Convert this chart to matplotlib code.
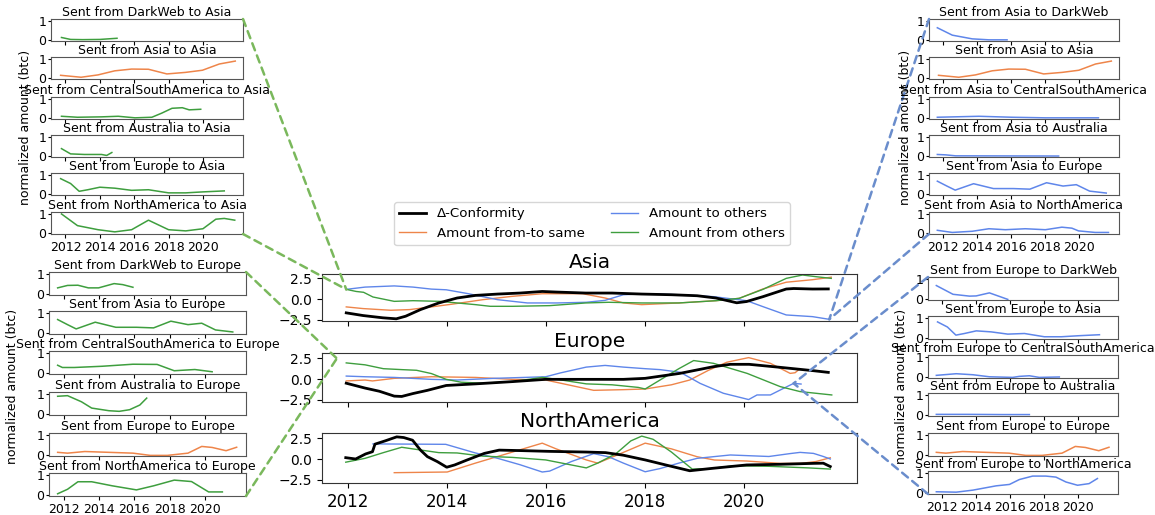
import matplotlib
matplotlib.use("Agg")
import matplotlib.pyplot as plt
from matplotlib.patches import ConnectionPatch
from matplotlib.lines import Line2D

W, H = 1155, 515

# ---------------- main panels data ----------------
asia_conf_x = [2011.96, 2012.3, 2012.7, 2012.97, 2013.16, 2013.46, 2013.83, 2014.2, 2014.57, 2015.02, 2015.47,
               2015.92, 2016.2, 2016.8, 2017.33, 2017.93, 2018.53, 2019.05, 2019.43, 2019.85, 2020.05, 2020.38,
               2020.85, 2021.0, 2021.38, 2021.7]
asia_conf_y = [-1.65, -1.97, -2.24, -2.36, -2.05, -1.26, -0.47, 0.12, 0.43, 0.59, 0.71, 0.9, 0.83, 0.71, 0.71,
               0.59, 0.51, 0.39, 0.12, -0.45, -0.3, 0.28, 1.19, 1.25, 1.19, 1.2]
asia_same_x = [2011.96, 2012.3, 2012.86, 2013.24, 2013.68, 2014.13, 2014.72, 2015.3, 2015.92, 2016.74, 2017.19,
               2017.56, 2017.93, 2018.68, 2019.43, 2019.9, 2020.38, 2020.85, 2021.38, 2021.76]
asia_same_y = [-0.94, -1.14, -1.34, -1.26, -0.94, -0.59, -0.08, 0.31, 0.63, 0.63, 0.12, -0.47, -0.67, -0.47, -0.2,
               0.08, 1.2, 2.0, 2.3, 2.6]
asia_to_x = [2011.96, 2012.34, 2012.93, 2013.31, 2013.68, 2013.98, 2014.43, 2015.02, 2015.62, 2016.22, 2016.81,
             2017.19, 2017.56, 2018.0, 2018.68, 2019.38, 2020.05, 2020.38, 2020.85, 2021.38, 2021.72]
asia_to_y = [1.15, 1.42, 1.56, 1.42, 1.18, 1.1, 0.63, -0.08, -0.47, -0.47, -0.39, -0.16, 0.51, 0.63, 0.51, 0.28,
             -0.2, -0.91, -1.9, -2.1, -2.42]
asia_from_x = [2011.96, 2012.16, 2012.31, 2012.5, 2012.93, 2013.31, 2013.86, 2014.2, 2014.57, 2014.87, 2015.32,
               2016.07, 2016.8, 2017.26, 2017.93, 2018.68, 2019.43, 2019.9, 2020.38, 2020.85, 2021.18, 2021.45,
               2021.76]
asia_from_y = [1.15, 0.9, 0.8, 0.24, -0.28, -0.2, -0.28, -0.47, -0.67, -0.87, -0.87, -0.79, -0.47, -0.39, -0.47,
               -0.47, -0.2, 0.08, 1.15, 2.46, 2.86, 2.66, 2.46]

eu_conf_x = [2011.96, 2012.34, 2012.63, 2012.93, 2013.08, 2013.31, 2013.6, 2013.98, 2014.57, 2015.32, 2015.99,
             2016.81, 2017.56, 2018.0, 2018.7, 2019.38, 2019.72, 2020.1, 2020.73, 2021.4, 2021.7]
eu_conf_y = [-0.5, -1.08, -1.46, -2.04, -2.08, -1.73, -1.35, -0.77, -0.58, -0.31, -0.04, -0.04, -0.04, 0.08,
             0.67, 1.47, 1.75, 1.75, 1.39, 0.99, 0.79]
eu_same_x = [2011.96, 2012.34, 2012.49, 2012.93, 2013.68, 2014.57, 2015.32, 2015.99, 2016.44, 2016.96, 2017.56,
             2018.0, 2018.53, 2018.9, 2019.28, 2019.65, 2020.09, 2020.53, 2020.93, 2021.03, 2021.12]
eu_same_y = [-0.23, -0.12, -0.23, 0.08, 0.27, 0.19, -0.04, -0.12, -0.69, -1.35, -1.27, -1.19, -0.69, -0.12, 1.04,
             2.0, 2.55, 1.87, 0.67, 0.75, 1.2]
eu_to_x = [2011.96, 2012.34, 2012.93, 2013.68, 2014.2, 2014.95, 2015.99, 2016.29, 2016.81, 2017.19, 2017.56,
           2018.0, 2018.3, 2018.71, 2019.11, 2019.58, 2019.99, 2020.09, 2020.26, 2020.53, 2020.8, 2021.0, 2021.15]
eu_to_y = [0.35, 0.27, 0.19, -0.04, -0.12, 0.08, 0.27, 0.73, 1.42, 1.62, 1.42, 1.23, 1.12, 0.8, -0.52, -1.7,
           -2.3, -2.45, -1.9, -1.9, -1.1, -0.52, -0.6]
eu_from_x = [2011.96, 2012.34, 2012.71, 2013.08, 2013.38, 2013.68, 2013.98, 2014.28, 2014.72, 2015.32, 2015.92,
             2016.22, 2016.81, 2017.33, 2017.86, 2018.0, 2018.3, 2018.68, 2018.98, 2019.38, 2020.06, 2020.73,
             2021.13, 2021.77]
eu_from_y = [1.92, 1.69, 1.23, 1.12, 1.04, 0.65, -0.04, -0.38, -0.5, -0.31, 0.19, -0.04, -0.58, -0.69, -1.0,
             -1.19, -0.12, 1.23, 2.2, 1.87, 0.67, -0.91, -1.5, -1.9]

na_conf_x = [2011.95, 2012.15, 2012.35, 2012.49, 2012.54, 2012.75, 2012.98, 2013.12, 2013.3, 2013.46, 2013.6,
             2013.8, 2013.99, 2014.15, 2014.4, 2014.75, 2015.05, 2015.5, 2016.07, 2016.81, 2017.2, 2017.56, 2018.0,
             2018.45, 2018.9, 2019.38, 2020.05, 2020.73, 2021.4, 2021.6, 2021.74]
na_conf_y = [0.16, 0.0, 0.6, 0.87, 1.77, 2.17, 2.64, 2.56, 2.24, 1.06, 0.28, -0.31, -0.98, -0.71, -0.12, 0.67,
             1.06, 1.0, 0.91, 0.83, 0.76, 0.45, -0.11, -0.76, -1.4, -1.1, -0.71, -0.63, -0.52, -0.5, -0.9]
na_same_x = [2012.93, 2014.0, 2014.57, 2015.32, 2015.92, 2016.2, 2016.81, 2017.04, 2017.5, 2018.0, 2018.53,
             2019.05, 2019.4, 2020.05, 2020.73, 2021.15, 2021.45, 2021.74]
na_same_y = [-1.63, -1.55, -0.49, 0.83, 1.89, 1.21, -0.11, -0.49, 0.64, 1.89, 1.21, 0.27, -0.12, -0.24, -0.52,
             -0.52, -0.3, 0.15]
na_to_x = [2012.5, 2013.97, 2014.57, 2015.02, 2015.47, 2015.92, 2016.07, 2016.51, 2016.96, 2017.26, 2017.56,
           2018.0, 2018.3, 2018.68, 2019.05, 2019.72, 2020.5, 2020.92, 2021.13, 2021.4, 2021.6, 2021.74]
na_to_y = [1.8, 1.75, 0.72, 0.08, -0.68, -1.55, -1.44, -0.3, 0.64, 0.27, -0.49, -1.52, -1.14, -0.49, 0.08, 0.48,
           0.3, 0.64, 0.79, 0.67, 0.3, 0.0]
na_from_x = [2011.95, 2012.34, 2012.71, 2013.08, 2013.3, 2013.83, 2014.2, 2014.72, 2015.32, 2015.99, 2016.81,
             2017.04, 2017.41, 2017.71, 2017.93, 2018.16, 2018.53, 2018.95, 2019.3, 2019.8, 2020.5, 2021.3, 2021.74]
na_from_y = [-0.38, 0.08, 0.76, 1.4, 1.21, 0.76, 0.72, 0.34, 0.19, -0.11, -1.06, -0.49, 0.64, 2.16, 2.73, 2.35,
             0.83, -1.2, -1.15, -0.8, -0.87, -1.06, -1.2]

regions = ["Asia", "Europe", "NorthAmerica"]
legend_labels = ["Δ-Conformity", "Amount from-to same", "Amount to others", "Amount from others"]

# ---------------- small panels data ----------------
darkweb_asia_x = [2011.77, 2012.3, 2013.0, 2014.0, 2014.5, 2015.0]
darkweb_asia_y = [0.15, 0.05, 0.04, 0.05, 0.08, 0.11]
asia_asia_x = [2011.72, 2012.91, 2013.89, 2014.87, 2015.85, 2016.83, 2017.9, 2018.99, 2019.97, 2020.95, 2021.88]
asia_asia_y = [0.16, 0.06, 0.18, 0.39, 0.48, 0.47, 0.23, 0.31, 0.42, 0.74, 0.89]
csa_asia_x = [2011.77, 2012.7, 2014.1, 2015.07, 2016.05, 2017.03, 2017.6, 2018.2, 2018.8, 2019.2, 2019.87]
csa_asia_y = [0.11, 0.06, 0.08, 0.11, 0.03, 0.06, 0.27, 0.52, 0.55, 0.44, 0.47]
aus_asia_x = [2011.77, 2012.3, 2013.1, 2014.1, 2014.4, 2014.7]
aus_asia_y = [0.4, 0.13, 0.1, 0.1, 0.05, 0.2]
europe_asia_x = [2011.72, 2012.3, 2012.8, 2013.3, 2014.0, 2014.87, 2015.85, 2016.83, 2018.0, 2019.0, 2020.0,
                 2021.24]
europe_asia_y = [0.81, 0.56, 0.16, 0.24, 0.37, 0.32, 0.21, 0.24, 0.08, 0.08, 0.13, 0.18]
na_asia_x = [2011.77, 2012.7, 2013.9, 2014.87, 2015.85, 2016.83, 2018.0, 2019.0, 2020.0, 2020.75, 2021.24, 2021.85]
na_asia_y = [1.0, 0.4, 0.19, 0.08, 0.19, 0.68, 0.19, 0.13, 0.24, 0.73, 0.77, 0.68]

darkweb_eu_x = [2011.65, 2012.21, 2012.8, 2013.39, 2013.97, 2014.85, 2015.34, 2015.92]
darkweb_eu_y = [0.32, 0.44, 0.45, 0.32, 0.32, 0.53, 0.48, 0.35]
asia_eu_x = [2011.65, 2012.21, 2012.7, 2013.78, 2014.95, 2016.12, 2017.09, 2018.07, 2019.04, 2019.82, 2020.6,
             2021.58]
asia_eu_y = [0.68, 0.43, 0.22, 0.55, 0.3, 0.3, 0.27, 0.6, 0.43, 0.5, 0.17, 0.07]
csa_eu_x = [2011.65, 2011.92, 2012.6, 2014.17, 2015.92, 2017.29, 2018.26, 2019.43, 2020.41]
csa_eu_y = [0.4, 0.29, 0.29, 0.35, 0.45, 0.44, 0.13, 0.19, 0.08]
aus_eu_x = [2011.65, 2012.21, 2013.0, 2013.58, 2014.56, 2015.14, 2015.73, 2016.31, 2016.7]
aus_eu_y = [0.89, 0.92, 0.62, 0.31, 0.18, 0.15, 0.23, 0.46, 0.8]
eu_eu_x = [2011.65, 2012.21, 2013.19, 2014.56, 2015.92, 2016.9, 2017.87, 2019.04, 2019.82, 2020.41, 2021.2,
           2021.8]
eu_eu_y = [0.15, 0.11, 0.19, 0.15, 0.11, 0.0, 0.0, 0.11, 0.44, 0.39, 0.23, 0.4]
na_eu_x = [2011.65, 2012.21, 2012.8, 2013.58, 2014.75, 2016.12, 2017.09, 2018.26, 2019.24, 2020.21, 2020.99]
na_eu_y = [0.08, 0.3, 0.67, 0.67, 0.47, 0.27, 0.47, 0.75, 0.68, 0.17, 0.17]

asia_darkweb_x = [2011.65, 2012.53, 2013.7, 2014.68, 2015.75]
asia_darkweb_y = [0.65, 0.27, 0.08, 0.03, 0.03]
asia_csa_x = [2011.65, 2014.09, 2016.04, 2018.0, 2021.12]
asia_csa_y = [0.06, 0.11, 0.06, 0.03, 0.03]
asia_aus_x = [2011.65, 2012.14, 2012.72, 2018.78]
asia_aus_y = [0.1, 0.08, 0.03, 0.02]
asia_na_x = [2011.65, 2012.53, 2013.7, 2014.68, 2015.65, 2016.82, 2018.0, 2018.97, 2019.56, 2019.95, 2020.93,
             2021.71]
asia_na_y = [0.16, 0.05, 0.11, 0.24, 0.19, 0.24, 0.19, 0.32, 0.27, 0.13, 0.05, 0.05]

eu_darkweb_x = [2011.65, 2012.63, 2013.6, 2013.99, 2014.77, 2015.85]
eu_darkweb_y = [0.68, 0.25, 0.16, 0.17, 0.32, 0.0]
eu_csa_x = [2011.65, 2012.82, 2013.8, 2014.77, 2016.14, 2016.53, 2017.12, 2017.7, 2018.88]
eu_csa_y = [0.1, 0.18, 0.13, 0.03, 0.0, 0.05, 0.08, 0.0, 0.02]
eu_aus_x = [2011.65, 2013.5, 2015.5, 2017.12]
eu_aus_y = [0.05, 0.05, 0.04, 0.04]
eu_na_x = [2011.65, 2012.82, 2013.8, 2015.16, 2015.95, 2016.53, 2017.31, 2018.09, 2018.68, 2019.27, 2019.95,
           2020.63, 2021.12]
eu_na_y = [0.08, 0.06, 0.16, 0.37, 0.44, 0.68, 0.85, 0.85, 0.8, 0.56, 0.4, 0.48, 0.73]

year_ticks = [2012, 2014, 2016, 2018, 2020]
small_yticks = [0, 1]
main_yticks = [-2.5, 0.0, 2.5]

C_BLACK = "black"
C_ORANGE = "#EE854A"
C_BLUE = "#5F86EA"
C_GREEN = "#3E9E3E"
C_CON_GREEN = "#7AB85C"
C_CON_BLUE = "#6A8DCC"

fig = plt.figure(figsize=(W / 100, H / 100), dpi=100)


def rect(x0, y0, x1, y1):
    return [x0 / W, 1 - y1 / H, (x1 - x0) / W, (y1 - y0) / H]


# ---------------- main axes ----------------
main_rows = [(274, 321), (353, 402), (433, 483)]
main_ylims = [(-2.62, 2.98), (-2.74, 3.1), (-2.86, 3.1)]
main_data = [
    (asia_conf_x, asia_conf_y, asia_same_x, asia_same_y, asia_to_x, asia_to_y, asia_from_x, asia_from_y),
    (eu_conf_x, eu_conf_y, eu_same_x, eu_same_y, eu_to_x, eu_to_y, eu_from_x, eu_from_y),
    (na_conf_x, na_conf_y, na_same_x, na_same_y, na_to_x, na_to_y, na_from_x, na_from_y),
]
main_axes = []
for i, (name, (y0, y1), yl, d) in enumerate(zip(regions, main_rows, main_ylims, main_data)):
    ax = fig.add_axes(rect(322, y0, 857, y1))
    cx, cy, sx, sy, tx, ty, fx, fy = d
    ax.plot(sx, sy, color=C_ORANGE, lw=1.0)
    ax.plot(tx, ty, color=C_BLUE, lw=1.0)
    ax.plot(fx, fy, color=C_GREEN, lw=1.0)
    ax.plot(cx, cy, color=C_BLACK, lw=2.0)
    ax.set_xlim(2011.47, 2022.28)
    ax.set_ylim(*yl)
    ax.set_yticks(main_yticks)
    ax.set_xticks(year_ticks)
    ax.tick_params(axis="y", labelsize=10)
    ax.tick_params(axis="x", labelsize=12)
    if i < 2:
        ax.set_xticklabels([])
    ax.set_title(name, fontsize=14.5, pad=4)
    for s in ax.spines.values():
        s.set_color("#333333")
    main_axes.append(ax)

handles = [Line2D([], [], color=C_BLACK, lw=2), Line2D([], [], color=C_ORANGE, lw=1),
           Line2D([], [], color=C_BLUE, lw=1), Line2D([], [], color=C_GREEN, lw=1)]
fig.legend(handles, legend_labels, loc="upper left", bbox_to_anchor=(394 / W, 1 - 202 / H), ncol=2,
           fontsize=9.6, borderaxespad=0)

# ---------------- small axes ----------------
small_xlim = (2011.16, 2022.33)
small_ylim = (-0.03, 1.1)

groups = [
    dict(x=(51, 243), tops=[19, 57, 97, 135, 173, 212], h=22, lab_x=26, lab_y=127,
         titles=["Sent from DarkWeb to Asia", "Sent from Asia to Asia", "Sent from CentralSouthAmerica to Asia",
                 "Sent from Australia to Asia", "Sent from Europe to Asia", "Sent from NorthAmerica to Asia"],
         series=[(darkweb_asia_x, darkweb_asia_y, C_GREEN), (asia_asia_x, asia_asia_y, C_ORANGE),
                 (csa_asia_x, csa_asia_y, C_GREEN), (aus_asia_x, aus_asia_y, C_GREEN),
                 (europe_asia_x, europe_asia_y, C_GREEN), (na_asia_x, na_asia_y, C_GREEN)]),
    dict(x=(49, 246), tops=[272, 311, 351, 392, 433, 473], h=23, lab_x=13, lab_y=386,
         titles=["Sent from DarkWeb to Europe", "Sent from Asia to Europe", "Sent from CentralSouthAmerica to Europe",
                 "Sent from Australia to Europe", "Sent from Europe to Europe", "Sent from NorthAmerica to Europe"],
         series=[(darkweb_eu_x, darkweb_eu_y, C_GREEN), (asia_eu_x, asia_eu_y, C_GREEN),
                 (csa_eu_x, csa_eu_y, C_GREEN), (aus_eu_x, aus_eu_y, C_GREEN),
                 (eu_eu_x, eu_eu_y, C_ORANGE), (na_eu_x, na_eu_y, C_GREEN)]),
    dict(x=(929, 1119), tops=[19, 57, 97, 135, 173, 212], h=22, lab_x=905, lab_y=127,
         titles=["Sent from Asia to DarkWeb", "Sent from Asia to Asia", "Sent from Asia to CentralSouthAmerica",
                 "Sent from Asia to Australia", "Sent from Asia to Europe", "Sent from Asia to NorthAmerica"],
         series=[(asia_darkweb_x, asia_darkweb_y, C_BLUE), (asia_asia_x, asia_asia_y, C_ORANGE),
                 (asia_csa_x, asia_csa_y, C_BLUE), (asia_aus_x, asia_aus_y, C_BLUE),
                 (asia_eu_x, asia_eu_y, C_BLUE), (asia_na_x, asia_na_y, C_BLUE)]),
    dict(x=(928, 1118), tops=[277, 316, 355, 393, 433, 471], h=23, lab_x=901, lab_y=386,
         titles=["Sent from Europe to DarkWeb", "Sent from Europe to Asia", "Sent from Europe to CentralSouthAmerica",
                 "Sent from Europe to Australia", "Sent from Europe to Europe", "Sent from Europe to NorthAmerica"],
         series=[(eu_darkweb_x, eu_darkweb_y, C_BLUE), (europe_asia_x, europe_asia_y, C_BLUE),
                 (eu_csa_x, eu_csa_y, C_BLUE), (eu_aus_x, eu_aus_y, C_BLUE),
                 (eu_eu_x, eu_eu_y, C_ORANGE), (eu_na_x, eu_na_y, C_BLUE)]),
]

group_axes = []
for g in groups:
    axs = []
    for k, (top, title, (sx, sy, col)) in enumerate(zip(g["tops"], g["titles"], g["series"])):
        ax = fig.add_axes(rect(g["x"][0], top, g["x"][1], top + g["h"]))
        ax.plot(sx, sy, color=col, lw=1.1)
        ax.set_xlim(*small_xlim)
        ax.set_ylim(*small_ylim)
        ax.set_yticks(small_yticks)
        ax.set_xticks(year_ticks)
        ax.tick_params(axis="x", labelsize=9, length=3, pad=2)
        ax.tick_params(axis="y", labelsize=9, length=2, pad=1.5)
        if k < 5:
            ax.set_xticklabels([])
        ax.set_title(title, fontsize=9, pad=2)
        for s in ax.spines.values():
            s.set_color("#555555")
        axs.append(ax)
    fig.text(g["lab_x"] / W, 1 - g["lab_y"] / H, "normalized amount (btc)", rotation=90, ha="center",
             va="center", fontsize=9)
    group_axes.append(axs)

# ---------------- connectors ----------------
ax_asia, ax_eu, ax_na = main_axes
targets = [
    (group_axes[0], (1, 1), (1, 0), ax_asia, (asia_from_x[0], asia_from_y[0]), C_CON_GREEN),
    (group_axes[1], (1, 1), (1, 0), ax_eu, (2011.77, 2.45), C_CON_GREEN),
    (group_axes[2], (0, 1), (0, 0), ax_asia, (asia_to_x[-1], asia_to_y[-1]), C_CON_BLUE),
    (group_axes[3], (0, 1), (0, 0), ax_eu, (eu_to_x[-2], eu_to_y[-2]), C_CON_BLUE),
]
for axs, cA, cB, axm, pt, col in targets:
    for a, corner in ((axs[0], cA), (axs[-1], cB)):
        con = ConnectionPatch(xyA=corner, coordsA=a.transAxes, xyB=pt, coordsB=axm.transData,
                              color=col, lw=1.8, linestyle=(0, (3, 2.2)))
        fig.add_artist(con)

fig.savefig("out.png", dpi=100)
